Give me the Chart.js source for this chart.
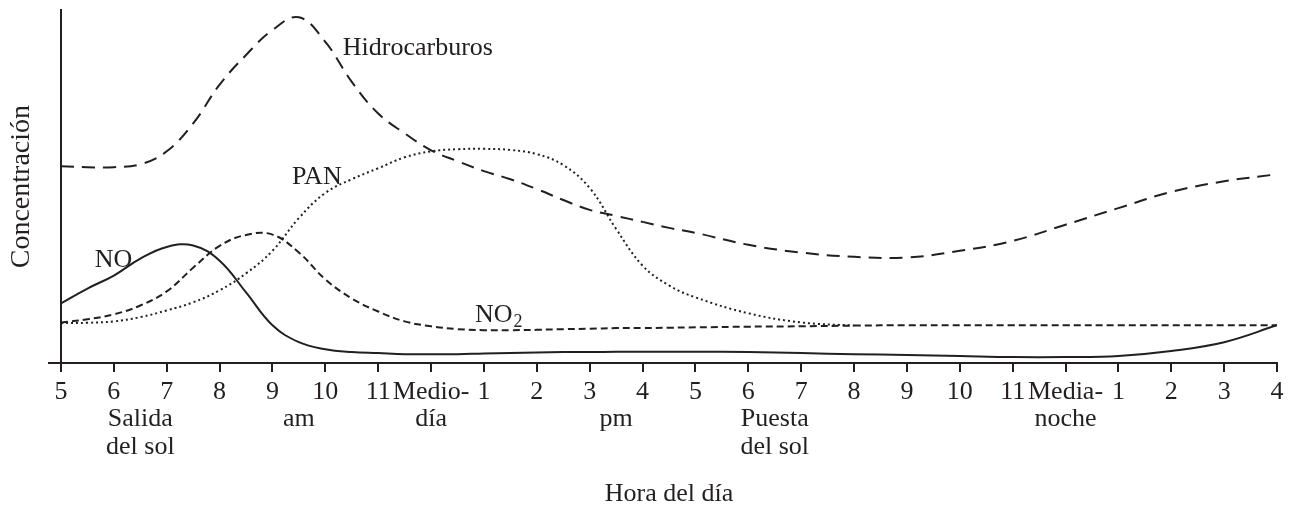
<!DOCTYPE html>
<html lang="es">
<head>
<meta charset="utf-8">
<title>Concentración según la hora del día</title>
<script src="https://cdn.jsdelivr.net/npm/chart.js@4.4.1/dist/chart.umd.min.js"></script>
<style>
  body { margin: 0; background: #fff; }
  canvas { display: block; }
</style>
</head>
<body>
<canvas id="grafico" width="1300" height="510"></canvas>
<script>
// horas contadas desde las 5 am (0 = 5 am ... 23 = 4 am del día siguiente)
const horas = [0, 0.5, 1, 1.5, 2, 2.5, 3, 3.5, 4, 4.5, 5, 5.5, 6, 6.5, 7, 7.5, 8, 8.5, 9, 9.5, 10, 10.5, 11, 11.5, 12,
  13, 14, 15, 16, 17, 18, 19, 20, 21, 22, 23]

// concentraciones (escala relativa 0-100)
const hidrocarburos = [55.8, 55.5, 55.5, 56.3, 60.0, 67.9, 78.9, 87.3, 94.4, 98.0, 91.0, 79.7, 70.7, 65.1, 60.3, 57.2, 54.4, 52.1, 49.3, 46.2, 43.4, 41.7, 40.0, 38.3, 36.9,
  33.5, 31.3, 30.1, 29.9, 31.8, 34.6, 39.2, 43.9, 48.5, 51.5, 53.5]
const pan = [11.3, 11.4, 11.8, 13.0, 14.9, 17.2, 20.6, 25.4, 31.8, 41.1, 48.2, 52.1, 55.2, 58.3, 60.0, 60.6, 60.7, 60.4, 59.2, 56.1, 49.6, 38.0, 27.6, 22.0, 18.6,
  14.1, 11.5, 10.6, null, null, null, null, null, null, null, null]
const no2 = [11.5, 12.4, 13.8, 16.3, 20.3, 27.0, 33.2, 36.3, 36.4, 31.3, 23.7, 18.3, 14.6, 11.8, 10.4, 9.6, 9.3, 9.3, 9.4, 9.6, 9.7, 9.9, 9.9, 10.0, 10.1,
  10.3, 10.4, 10.6, 10.7, 10.7, 10.7, 10.7, 10.7, 10.7, 10.7, 10.7]
const no = [16.9, 21.1, 24.8, 29.6, 32.9, 33.3, 29.0, 20.0, 10.7, 5.9, 3.9, 3.1, 2.8, 2.5, 2.5, 2.5, 2.7, 2.8, 3.0, 3.1, 3.1, 3.2, 3.2, 3.2, 3.2,
  3.1, 2.8, 2.5, 2.3, 2.0, 1.7, 1.7, 2.0, 3.4, 5.9, 10.7]

// etiquetas del eje x
const etiquetasHora = ['5', '6', '7', '8', '9', '10', '11', 'Medio-', '1', '2', '3', '4', '5', '6', '7', '8', '9', '10', '11', 'Media-', '1', '2', '3', '4']
const etiquetasAbajo = [['Salida', 'del sol'], 'am', 'día', 'pm', ['Puesta', 'del sol'], 'noche']
const posAbajo = [1.5, 4.5, 7, 10.5, 13.5, 19]

// rótulos de las curvas
const rotulos = ['Hidrocarburos', 'PAN', 'NO', 'NO']
const subindices = ['', '', '', '2']
const rotuloX = [5.33, 4.37, 0.64, 7.83]
const rotuloY = [87.3, 50.8, 27.2, 11.6]

const tinta = '#231f20'
const letra = '"Liberation Serif", "Times New Roman", serif'

function puntos(valores) {
  return horas.map((h, i) => ({ x: h, y: valores[i] }))
}

function serie(nombre, valores, guiones) {
  return {
    label: nombre,
    data: puntos(valores),
    borderColor: tinta,
    borderWidth: 2,
    borderDash: guiones,
    pointRadius: 0,
    fill: false,
    spanGaps: false,
    tension: 0.4
  }
}

// dibuja los nombres de cada curva
const rotulosPlugin = {
  id: 'rotulos',
  afterDatasetsDraw(chart) {
    const ctx = chart.ctx
    const x = chart.scales.x
    const y = chart.scales.y
    ctx.save()
    ctx.fillStyle = tinta
    ctx.textAlign = 'left'
    ctx.textBaseline = 'alphabetic'
    rotulos.forEach((texto, i) => {
      const px = x.getPixelForValue(rotuloX[i])
      const py = y.getPixelForValue(rotuloY[i])
      ctx.font = '26px ' + letra
      ctx.fillText(texto, px, py)
      if (subindices[i]) {
        const ancho = ctx.measureText(texto).width
        ctx.font = '18px ' + letra
        ctx.fillText(subindices[i], px + ancho + 1, py + 4.5)
      }
    })
    ctx.restore()
  }
}

new Chart(document.getElementById('grafico'), {
  type: 'line',
  data: {
    datasets: [
      serie('Hidrocarburos', hidrocarburos, [13, 8]),
      serie('PAN', pan, [2, 3]),
      serie('NO2', no2, [7, 4]),
      serie('NO', no, [])
    ]
  },
  options: {
    responsive: false,
    animation: false,
    devicePixelRatio: 1,
    layout: { padding: { top: 8, right: 23, bottom: 0, left: 0 } },
    plugins: {
      legend: { display: false },
      tooltip: { enabled: false }
    },
    scales: {
      x: {
        type: 'linear',
        min: 0,
        max: 23,
        afterBuildTicks: s => { s.ticks = etiquetasHora.map((_, i) => ({ value: i })) },
        ticks: {
          callback: v => etiquetasHora[v],
          font: { family: letra, size: 26 },
          color: tinta,
          padding: 5,
          maxRotation: 0,
          autoSkip: false
        },
        grid: { drawOnChartArea: false, drawTicks: true, tickLength: 9, color: tinta, lineWidth: 2 },
        border: { color: tinta, width: 2 },
        afterFit: s => { s.height = 42 }
      },
      x2: {
        type: 'linear',
        position: 'bottom',
        min: 0,
        max: 23,
        afterBuildTicks: s => { s.ticks = posAbajo.map(v => ({ value: v })) },
        ticks: {
          callback: v => etiquetasAbajo[posAbajo.indexOf(v)],
          font: { family: letra, size: 26, lineHeight: 1.05 },
          color: tinta,
          padding: 1,
          maxRotation: 0,
          autoSkip: false
        },
        grid: { display: false, drawTicks: false },
        border: { display: false },
        title: {
          display: true,
          text: 'Hora del día',
          font: { family: letra, size: 26 },
          color: tinta,
          padding: { top: 0, bottom: 0 }
        },
        afterFit: s => { s.height = 105 }
      },
      y: {
        min: 0,
        max: 100,
        afterBuildTicks: s => { s.ticks = [{ value: 0 }] },
        ticks: { callback: () => '' },
        grid: { drawOnChartArea: false, drawTicks: true, tickLength: 13, color: tinta, lineWidth: 2 },
        border: { color: tinta, width: 2 },
        title: {
          display: true,
          text: 'Concentración',
          font: { family: letra, size: 28 },
          color: tinta,
          padding: { top: 5, bottom: 0 }
        },
        afterFit: s => { s.width = 61 }
      }
    }
  },
  plugins: [rotulosPlugin]
})
</script>
</body>
</html>
